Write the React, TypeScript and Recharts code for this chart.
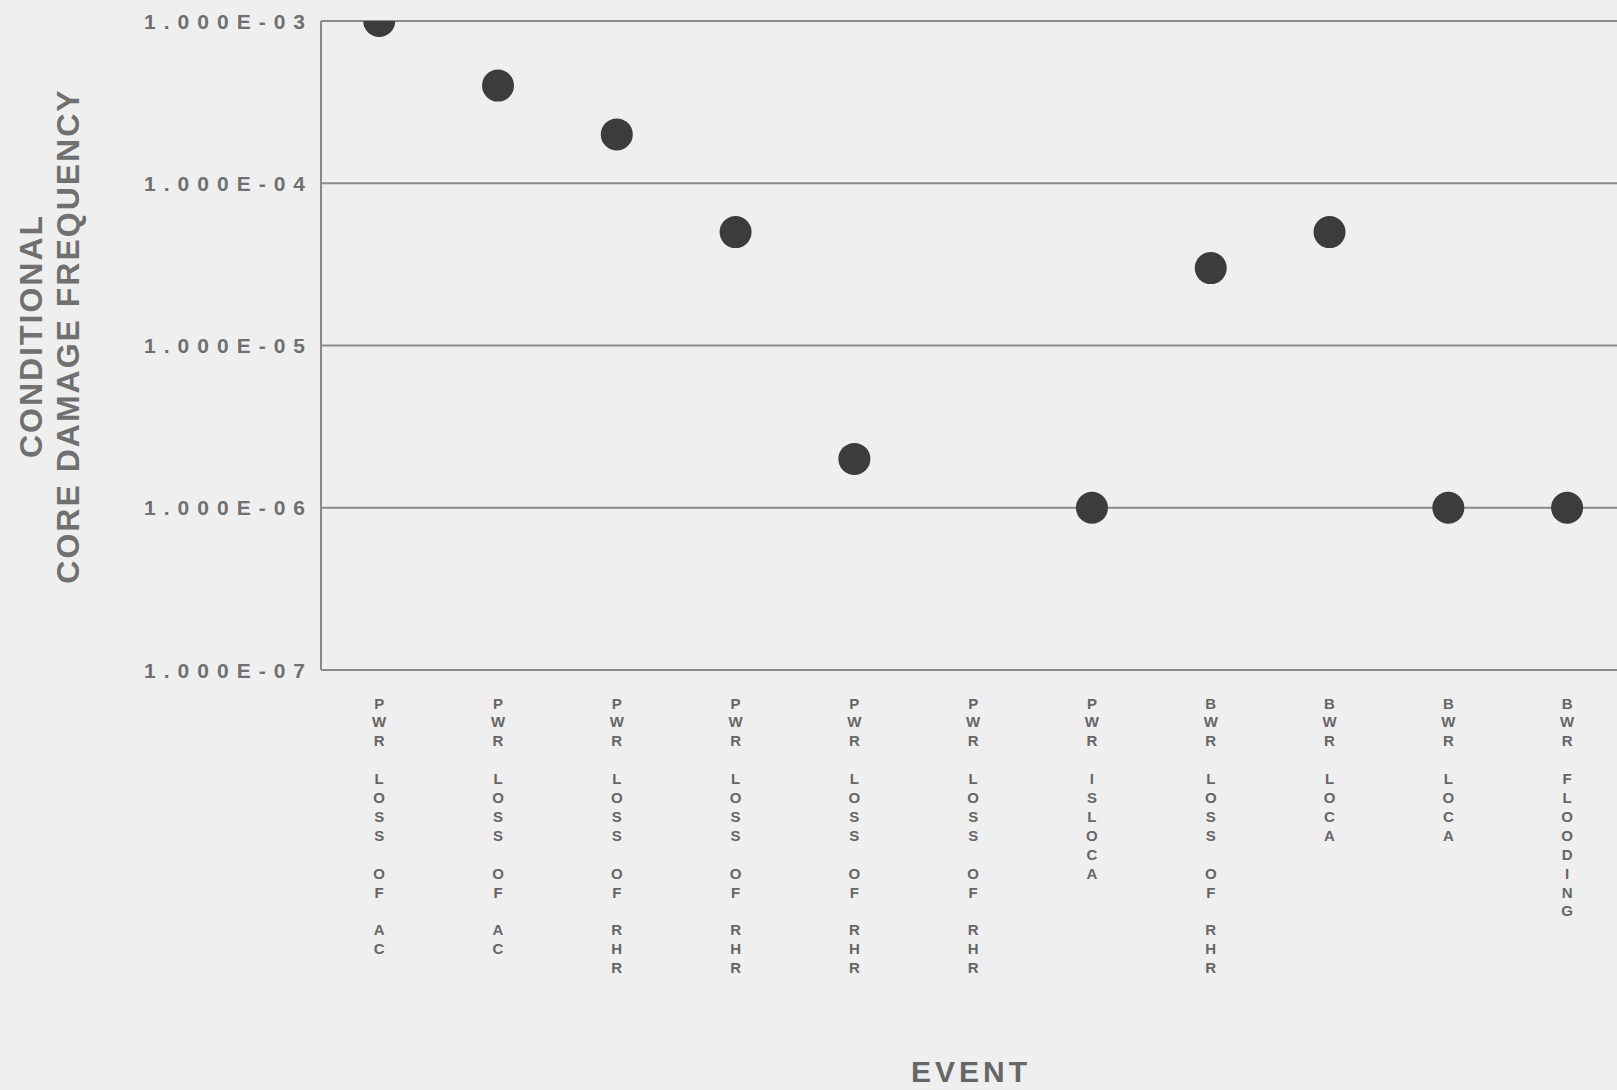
import { ScatterChart, Scatter, XAxis, YAxis, CartesianGrid } from "recharts";

const events = [
  "PWR LOSS OF AC",
  "PWR LOSS OF AC",
  "PWR LOSS OF RHR",
  "PWR LOSS OF RHR",
  "PWR LOSS OF RHR",
  "PWR LOSS OF RHR",
  "PWR ISLOCA",
  "BWR LOSS OF RHR",
  "BWR LOCA",
  "BWR LOCA",
  "BWR FLOODING",
];

// conditional core damage frequency per event (6th event has no point)
const frequency: (number | null)[] = [
  1e-3, 4e-4, 2e-4, 5e-5, 2e-6, null, 1e-6, 3e-5, 5e-5, 1e-6, 1e-6,
];

const yTicks = [1e-7, 1e-6, 1e-5, 1e-4, 1e-3];
const yTickLabels = ["1.000E-07", "1.000E-06", "1.000E-05", "1.000E-04", "1.000E-03"];

const FONT = '"Liberation Sans", Arial, sans-serif';
const INK = "#707070";

const chartData = frequency
  .map((v, i) => ({ x: i, y: v }))
  .filter((d) => d.y !== null);

// eslint-disable-next-line @typescript-eslint/no-explicit-any
function EventTick(props: any) {
  const { x, y, payload } = props;
  const label = events[payload.value] ?? "";
  const chars = label.split("");
  return (
    <text
      fill="#666"
      fontFamily={FONT}
      fontWeight="bold"
      fontSize={15}
      textAnchor="middle"
    >
      {chars.map((c, k) =>
        c === " " ? null : (
          <tspan key={k} x={x} y={y + 38.5 + k * 18.9}>
            {c}
          </tspan>
        )
      )}
    </text>
  );
}

// eslint-disable-next-line @typescript-eslint/no-explicit-any
function FreqTick(props: any) {
  const { x, y, payload } = props;
  const idx = yTicks.findIndex(
    (t) => Math.abs(Math.log10(t) - Math.log10(payload.value)) < 1e-6
  );
  return (
    <text
      x={x}
      y={y}
      dy="0.36em"
      textAnchor="end"
      fill={INK}
      fontFamily={FONT}
      fontWeight="bold"
      fontSize={21}
      letterSpacing={8}
    >
      {idx >= 0 ? yTickLabels[idx] : ""}
    </text>
  );
}

// eslint-disable-next-line @typescript-eslint/no-explicit-any
const Dot = (p: any) => <circle cx={p.cx} cy={p.cy} r={16} fill="#3c3c3c" />;

export default function App() {
  return (
    <div
      style={{
        position: "absolute",
        left: 0,
        top: 0,
        width: 1617,
        height: 1090,
        background: "#efefef",
        overflow: "hidden",
        fontFamily: FONT,
      }}
    >
      <ScatterChart
        width={1617}
        height={1090}
        margin={{ top: 21, right: 0, bottom: 0, left: 0 }}
      >
        <CartesianGrid
          vertical={false}
          stroke="#8a8a8a"
          strokeWidth={2}
        />
        <XAxis
          type="number"
          dataKey="x"
          domain={[-0.49, 10.42]}
          allowDataOverflow
          ticks={events.map((_, i) => i)}
          interval={0}
          height={420}
          tickSize={0}
          tickMargin={0}
          tickLine={false}
          axisLine={{ stroke: "#8a8a8a", strokeWidth: 2 }}
          tick={<EventTick />}
        />
        <YAxis
          type="number"
          dataKey="y"
          scale="log"
          domain={[1e-7, 1e-3]}
          allowDataOverflow
          ticks={yTicks}
          interval={0}
          width={321}
          tickSize={0}
          tickMargin={8}
          tickLine={false}
          axisLine={{ stroke: "#8a8a8a", strokeWidth: 2 }}
          tick={<FreqTick />}
        />
        <Scatter data={chartData} shape={Dot} isAnimationActive={false} />
      </ScatterChart>

      <div
        style={{
          position: "absolute",
          left: 50,
          top: 336,
          transform: "translate(-50%, -50%) rotate(-90deg)",
          textAlign: "center",
          whiteSpace: "nowrap",
          color: INK,
          fontWeight: "bold",
          fontSize: 32,
          lineHeight: "37px",
          letterSpacing: 2,
        }}
      >
        CONDITIONAL
        <br />
        CORE DAMAGE FREQUENCY
      </div>

      <div
        style={{
          position: "absolute",
          left: 971,
          top: 1072,
          transform: "translate(-50%, -50%)",
          color: "#666",
          fontWeight: "bold",
          fontSize: 30,
          letterSpacing: 4,
          whiteSpace: "nowrap",
        }}
      >
        EVENT
      </div>
    </div>
  );
}
